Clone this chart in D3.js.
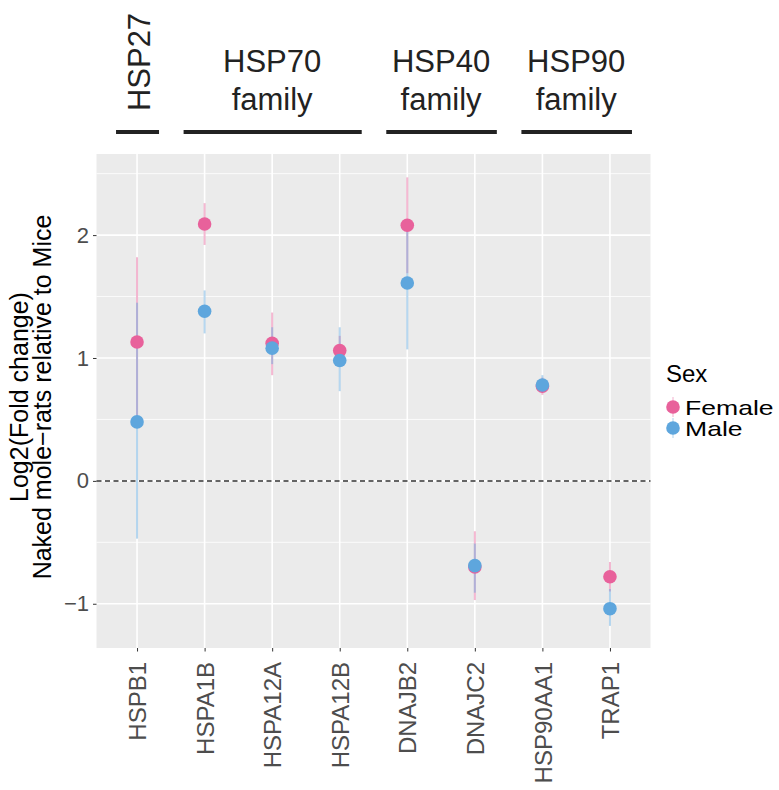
<!DOCTYPE html>
<html><head><meta charset="utf-8">
<script src="https://cdn.jsdelivr.net/npm/d3@7"></script>
<style>body{margin:0;background:#fff}svg{display:block;font-family:"Liberation Sans",Arial,Helvetica,sans-serif}</style>
</head><body><svg id="c" width="779" height="790"></svg>
<script>
const genes = ["HSPB1","HSPA1B","HSPA12A","HSPA12B","DNAJB2","DNAJC2","HSP90AA1","TRAP1"];
const femaleMean = [1.13, 2.09, 1.12, 1.06, 2.08, -0.70, 0.77, -0.78];
const femaleLow  = [0.44, 1.92, 0.86, 0.93, 1.69, -0.97, 0.70, -0.90];
const femaleHigh = [1.82, 2.26, 1.37, 1.18, 2.47, -0.41, 0.84, -0.66];
const maleMean   = [0.48, 1.38, 1.08, 0.98, 1.61, -0.69, 0.78, -1.04];
const maleLow    = [-0.47, 1.20, 0.95, 0.73, 1.07, -0.91, 0.72, -1.18];
const maleHigh   = [1.45, 1.55, 1.25, 1.25, 2.12, -0.51, 0.86, -0.88];
const yTicks = [-1, 0, 1, 2];
const yMinor = [-0.5, 0.5, 1.5, 2.5];
const sexes = ["Female", "Male"];
const sexColors = ["#E8619B", "#5EA6DD"];
const groupLabels = [["HSP27"], ["HSP70", "family"], ["HSP40", "family"], ["HSP90", "family"]];
const groupFrom = ["HSPB1", "HSPA1B", "DNAJB2", "HSP90AA1"];
const groupTo   = ["HSPB1", "HSPA12B", "DNAJC2", "TRAP1"];
const yTitle = ["Log2(Fold change)", "Naked mole\u2212rats relative to Mice"];

const svg = d3.select("#c");
const P = {l: 96.5, r: 650.5, t: 154, b: 648};
const x = d3.scalePoint().domain(genes).range([P.l, P.r]).padding(0.6);
const y = d3.scaleLinear().domain([-1.36, 2.66]).range([P.b, P.t]);
const color = d3.scaleOrdinal().domain(sexes).range(sexColors);

// panel
svg.append("rect").attr("x", P.l).attr("y", P.t).attr("width", P.r - P.l).attr("height", P.b - P.t).attr("fill", "#EBEBEB");
const grid = svg.append("g");
grid.selectAll(".mn").data(yMinor.filter(v => y(v) > P.t && y(v) < P.b)).join("line")
  .attr("x1", P.l).attr("x2", P.r).attr("y1", d => y(d)).attr("y2", d => y(d))
  .attr("stroke", "#fff").attr("stroke-width", 0.8);
grid.selectAll(".mj").data(yTicks).join("line")
  .attr("x1", P.l).attr("x2", P.r).attr("y1", d => y(d)).attr("y2", d => y(d))
  .attr("stroke", "#fff").attr("stroke-width", 1.6);
grid.selectAll(".vx").data(genes).join("line")
  .attr("x1", d => x(d)).attr("x2", d => x(d)).attr("y1", P.t).attr("y2", P.b)
  .attr("stroke", "#fff").attr("stroke-width", 1.6);

// zero dashed line
svg.append("line").attr("x1", P.l).attr("x2", P.r).attr("y1", y(0)).attr("y2", y(0))
  .attr("stroke", "#333").attr("stroke-width", 1.5).attr("stroke-dasharray", "5,3.5");

// data
const rows = [];
sexes.forEach((s, si) => genes.forEach((g, i) => {
  const m = si === 0 ? femaleMean : maleMean, lo = si === 0 ? femaleLow : maleLow, hi = si === 0 ? femaleHigh : maleHigh;
  rows.push({sex: s, gene: g, mean: m[i], lo: lo[i], hi: hi[i]});
}));
svg.append("g").selectAll("line").data(rows).join("line")
  .attr("x1", d => x(d.gene)).attr("x2", d => x(d.gene))
  .attr("y1", d => y(d.lo)).attr("y2", d => y(d.hi))
  .attr("stroke", d => color(d.sex)).attr("stroke-width", 2).attr("stroke-opacity", 0.45);
svg.append("g").selectAll("circle").data(rows).join("circle")
  .attr("cx", d => x(d.gene)).attr("cy", d => y(d.mean)).attr("r", 6.8)
  .attr("fill", d => color(d.sex));

// axes
const yAx = svg.append("g").attr("transform", `translate(${P.l},0)`)
  .call(d3.axisLeft(y).tickValues(yTicks).tickSize(3.5).tickPadding(4).tickFormat(d => d < 0 ? "\u2212" + Math.abs(d) : d));
yAx.select(".domain").remove();
yAx.selectAll("line").attr("stroke", "#333");
yAx.selectAll("text").attr("fill", "#4D4D4D").attr("font-size", 22).attr("font-family", "Liberation Sans, Arial, sans-serif");

const xAx = svg.append("g").attr("transform", `translate(0,${P.b})`)
  .call(d3.axisBottom(x).tickSize(3.5).tickPadding(0));
xAx.select(".domain").remove();
xAx.selectAll("line").attr("stroke", "#333");
xAx.selectAll("text").attr("fill", "#4D4D4D").attr("font-size", 24).attr("font-family", "Liberation Sans, Arial, sans-serif")
  .attr("text-anchor", "end").attr("transform", "translate(0,14) rotate(-90)").attr("x", 0).attr("y", 0).attr("dy", "0.36em");

// y title
const yt = svg.append("g").attr("transform", `translate(0,397) rotate(-90)`);
yt.selectAll("text").data(yTitle).join("text")
  .attr("x", 0).attr("y", (d, i) => 28 + i * 23).attr("text-anchor", "middle")
  .attr("font-size", 25).attr("fill", "#000").text(d => d);

// group headers
groupLabels.forEach((lab, i) => {
  const x0 = x(groupFrom[i]), x1 = x(groupTo[i]);
  const cx = (x0 + x1) / 2;
  svg.append("line").attr("x1", x0 - 21).attr("x2", x1 + 22).attr("y1", 132).attr("y2", 132)
    .attr("stroke", "#222").attr("stroke-width", 4);
  if (lab.length === 1) {
    svg.append("text").attr("transform", `translate(${cx + 1.5},62) rotate(-90)`)
      .attr("text-anchor", "middle").attr("dy", "0.36em").attr("font-size", 31).attr("fill", "#222").text(lab[0]);
  } else {
    lab.forEach((t, j) => svg.append("text").attr("x", cx).attr("y", 72 + j * 38)
      .attr("text-anchor", "middle").attr("font-size", 31).attr("fill", "#222").text(t));
  }
});

// legend
svg.append("text").attr("x", 666).attr("y", 382).attr("font-size", 24).attr("fill", "#000").text("Sex");
sexes.forEach((s, i) => {
  const ky = 407 + i * 21;
  svg.append("line").attr("x1", 673).attr("x2", 673).attr("y1", ky - 10).attr("y2", ky + 10)
    .attr("stroke", color(s)).attr("stroke-width", 2).attr("stroke-opacity", 0.25);
  svg.append("circle").attr("cx", 673).attr("cy", ky).attr("r", 6.8).attr("fill", color(s));
  svg.append("text").attr("transform", `translate(685,${ky + 8}) scale(1.33,1)`)
    .attr("font-size", 20).attr("fill", "#000").text(s);
});
</script></body></html>
